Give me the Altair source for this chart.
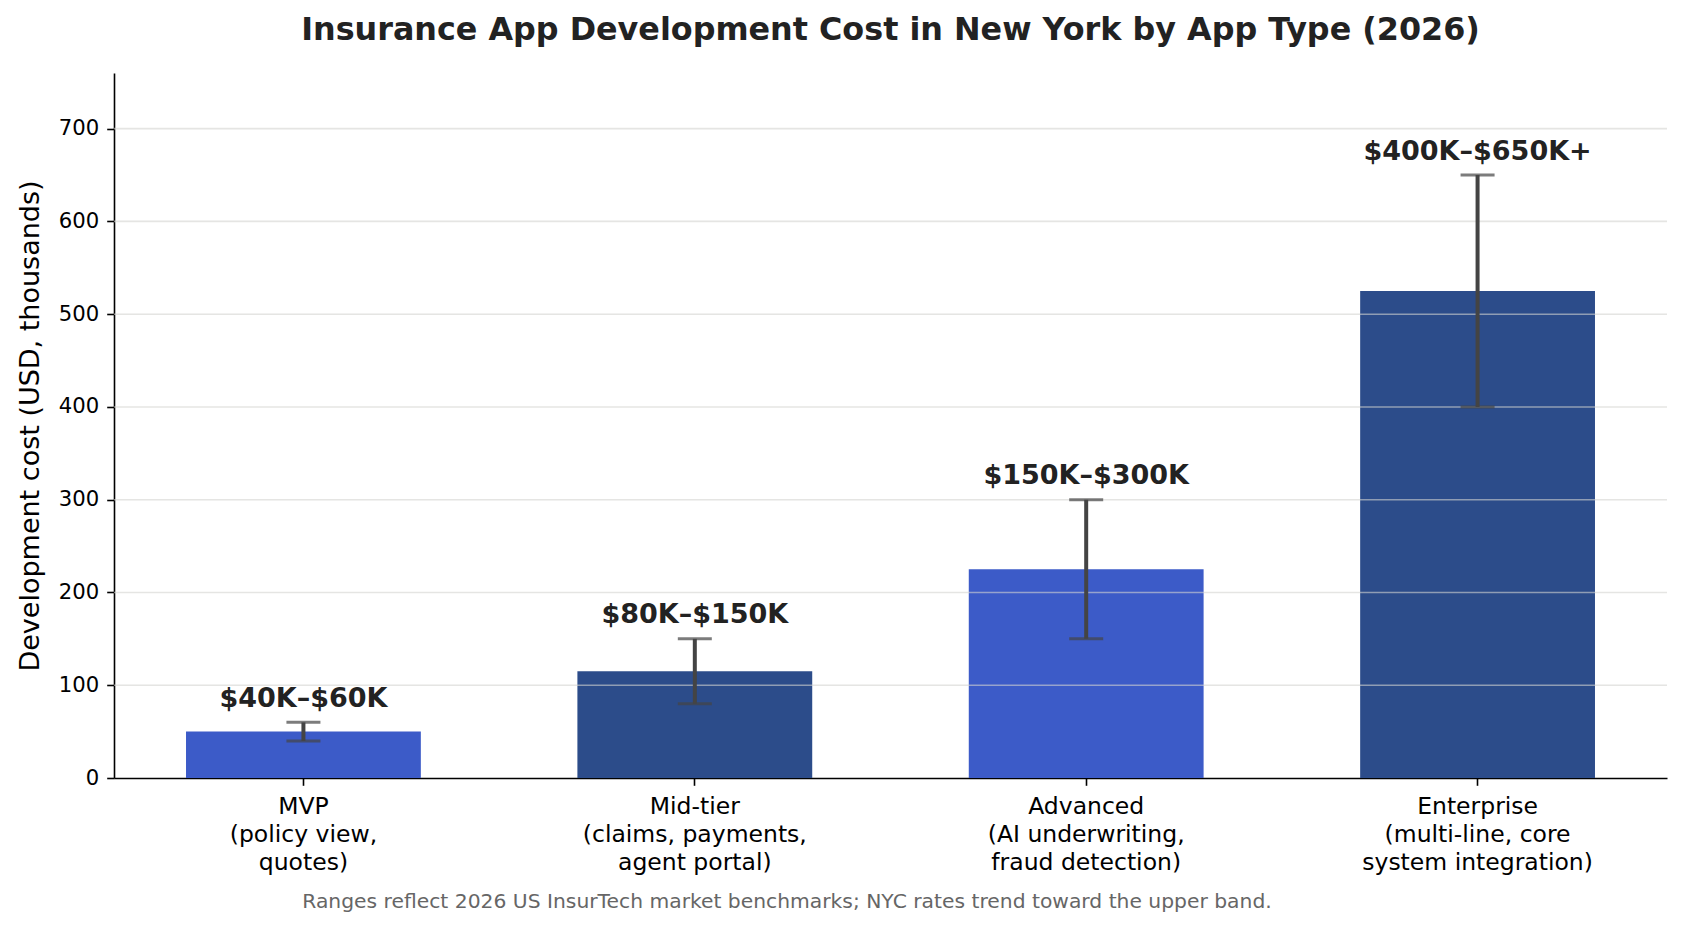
import altair as alt
import pandas as pd

# App tiers (axis labels split onto several lines)
APP_TYPES = [
    "MVP\n(policy view,\nquotes)",
    "Mid-tier\n(claims, payments,\nagent portal)",
    "Advanced\n(AI underwriting,\nfraud detection)",
    "Enterprise\n(multi-line, core\nsystem integration)",
]
# Cost ranges in thousands of USD
COST_LOW = [40, 80, 150, 400]
COST_HIGH = [60, 150, 300, 650]
RANGE_LABELS = ["$40K–$60K", "$80K–$150K", "$150K–$300K", "$400K–$650K+"]
Y_TICKS = [0, 100, 200, 300, 400, 500, 600, 700]
FOOTNOTE = "Ranges reflect 2026 US InsurTech market benchmarks; NYC rates trend toward the upper band."

BLUE = "#3c5bc8"
NAVY = "#2c4c8a"
FONT = "DejaVu Sans"

df = pd.DataFrame({
    "type": APP_TYPES,
    "low": COST_LOW,
    "high": COST_HIGH,
    "range": RANGE_LABELS,
})
df["mid"] = (df["low"] + df["high"]) / 2

x_enc = alt.X(
    "type:N",
    sort=APP_TYPES,
    scale=alt.Scale(paddingInner=0.4, paddingOuter=0.184),
    axis=alt.Axis(
        title=None,
        labelExpr="split(datum.label, '\\n')",
        labelAngle=0,
        labelLimit=0,
        labelFont=FONT,
        labelFontSize=23.5,
        labelLineHeight=28,
        labelColor="#000000",
        labelPadding=9,
        domainColor="#000000",
        domainWidth=1.6,
        tickColor="#000000",
        tickWidth=1.6,
        tickSize=7.3,
    ),
)
y_scale = alt.Scale(domain=[0, 760], nice=False)

base = alt.Chart(df)

bars = base.mark_bar().encode(
    x=x_enc,
    y=alt.Y(
        "mid:Q",
        scale=y_scale,
        axis=alt.Axis(
            values=Y_TICKS,
            grid=False,
            title="Development cost (USD, thousands)",
            titleFont=FONT,
            titleFontSize=27,
            titleFontWeight="normal",
            titleColor="#000000",
            titlePadding=14,
            labelFont=FONT,
            labelFontSize=21.2,
            labelColor="#000000",
            labelPadding=8,
            domainColor="#000000",
            domainWidth=1.6,
            tickColor="#000000",
            tickWidth=1.6,
            tickSize=7.3,
        ),
    ),
    color=alt.Color(
        "type:N",
        sort=APP_TYPES,
        scale=alt.Scale(domain=APP_TYPES, range=[BLUE, NAVY, BLUE, NAVY]),
        legend=None,
    ),
)

# Horizontal grid drawn over the bars, under the error bars
grid = alt.Chart(pd.DataFrame({"tick": Y_TICKS[1:]})).mark_rule(
    color="#d4d4d0", opacity=0.6, strokeWidth=1.6
).encode(y=alt.Y("tick:Q", scale=y_scale))

whisker = base.mark_rule(color="#444444", strokeWidth=4).encode(
    x=alt.X("type:N", sort=APP_TYPES),
    y="low:Q",
    y2="high:Q",
)
cap_low = base.mark_tick(color="#444444", thickness=3, size=34).encode(
    x=alt.X("type:N", sort=APP_TYPES), y="low:Q"
)
cap_high = base.mark_tick(color="#444444", thickness=3, size=34).encode(
    x=alt.X("type:N", sort=APP_TYPES), y="high:Q"
)

labels = base.mark_text(
    font=FONT, fontSize=27, fontWeight="bold", color="#222222",
    baseline="alphabetic", dy=-15.5,
).encode(
    x=alt.X("type:N", sort=APP_TYPES),
    y="high:Q",
    text="range:N",
)

note = alt.Chart(pd.DataFrame({"note": [FOOTNOTE]})).mark_text(
    font=FONT, fontSize=20.3, color="#666666", baseline="middle", align="center"
).encode(
    text="note:N",
    x=alt.value(673),
    y=alt.value(829),
)

chart = alt.layer(bars, grid, whisker, cap_low, cap_high, labels, note).properties(
    width=1553,
    height=705,
    padding={"left": 114, "top": 73, "right": 15, "bottom": 151},
    autosize=alt.AutoSizeParams(type="none"),
    background="#ffffff",
    title=alt.TitleParams(
        "Insurance App Development Cost in New York by App Type (2026)",
        font=FONT,
        fontSize=31.8,
        fontWeight="bold",
        color="#222222",
        anchor="middle",
        frame="group",
        baseline="alphabetic",
        offset=1.5,
    ),
).configure_view(stroke=None)

chart.save("out.html", embed_options={"renderer": "svg", "actions": False})
